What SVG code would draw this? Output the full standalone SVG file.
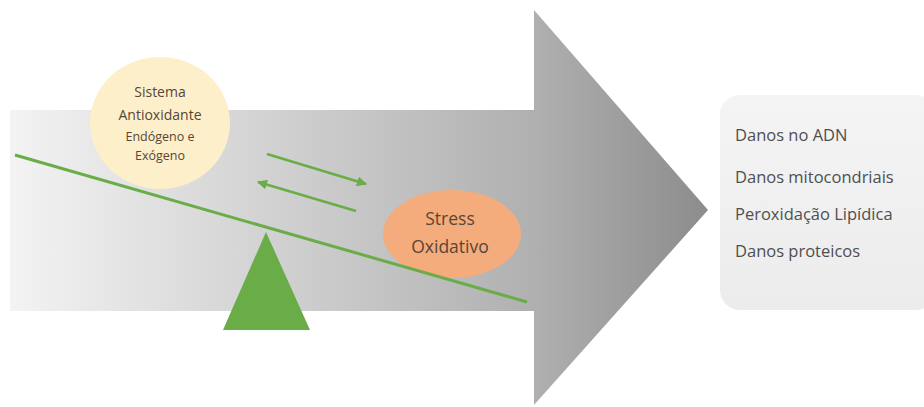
<svg xmlns="http://www.w3.org/2000/svg" width="924" height="407" viewBox="0 0 924 407">
<defs>
<linearGradient id="arrowGrad" gradientUnits="userSpaceOnUse" x1="10" y1="0" x2="708" y2="0">
<stop offset="0" stop-color="#f3f3f3"/>
<stop offset="0.75" stop-color="#b0b0b0"/>
<stop offset="1" stop-color="#8c8c8c"/>
</linearGradient>
<linearGradient id="boxGrad" x1="0" y1="0" x2="0" y2="1">
<stop offset="0" stop-color="#f4f4f4"/>
<stop offset="1" stop-color="#ececec"/>
</linearGradient>
<marker id="head" viewBox="0 0 10 10" refX="9" refY="5" markerWidth="4" markerHeight="4" orient="auto-start-reverse">
<path d="M0,0 L10,5 L0,10 z" fill="#6aad48"/>
</marker>
</defs>
<style>
.lbl{font-family:"Open Sans","Noto Sans","Liberation Sans",sans-serif;}
.circ{fill:#574637;text-anchor:middle;}
.box{fill:#4f4f4f;font-size:16.5px;}
.green{stroke:#6aad48;fill:none;}
</style>
<rect width="924" height="407" fill="#ffffff"/>
<g id="big-arrow">
<path d="M10,110 L534,110 L534,10 L708,210 L534,405 L534,311 L10,311 Z" fill="url(#arrowGrad)"/>
</g>
<g id="antioxidant">
<ellipse cx="160" cy="123" rx="70" ry="66" fill="#fdefc9"/>
<text class="lbl circ" x="160" y="97" font-size="14">Sistema</text>
<text class="lbl circ" x="160" y="120" font-size="14">Antioxidante</text>
<text class="lbl circ" x="160" y="141" font-size="12.5">Endógeno e</text>
<text class="lbl circ" x="160" y="160" font-size="12.5">Exógeno</text>
</g>
<g id="stress">
<ellipse cx="452" cy="234" rx="69" ry="44" fill="#f4ac7c"/>
<text class="lbl circ" x="450" y="225" font-size="17.5">Stress</text>
<text class="lbl circ" x="450" y="253" font-size="17.5">Oxidativo</text>
</g>
<g id="fulcrum">
<polygon points="266,232 310,330 223,330" fill="#6aad48"/>
</g>
<g id="connectors">
<line class="green" x1="15" y1="155" x2="527" y2="302" stroke-width="3"/>
<line class="green" x1="267" y1="154" x2="366" y2="184" stroke-width="2.5" marker-end="url(#head)"/>
<line class="green" x1="356" y1="211" x2="258" y2="182" stroke-width="2.5" marker-end="url(#head)"/>
</g>
<g id="effects">
<rect x="720" y="95" width="216" height="215" rx="20" fill="url(#boxGrad)"/>
<text class="lbl box" x="735" y="141">Danos no ADN</text>
<text class="lbl box" x="735" y="183">Danos mitocondriais</text>
<text class="lbl box" x="735" y="220">Peroxidação Lipídica</text>
<text class="lbl box" x="735" y="257">Danos proteicos</text>
</g>
</svg>
